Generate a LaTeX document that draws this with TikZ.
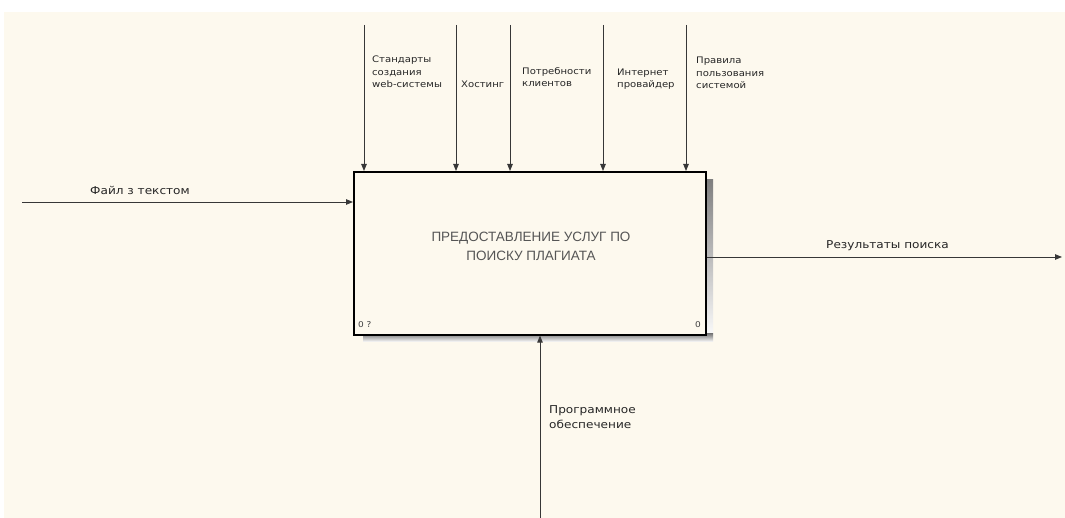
\documentclass[tikz,border=0pt]{standalone}
\usepackage{fontspec}
\usetikzlibrary{arrows.meta}
\newfontfamily\lblfont[FakeStretch=1.12]{DejaVu Sans}
\newfontfamily\boxfont{Liberation Sans}
\definecolor{paper}{RGB}{253,249,238}
\definecolor{wirec}{RGB}{55,55,55}
\definecolor{shade}{RGB}{178,178,175}
\definecolor{titlegray}{RGB}{85,85,85}
\begin{document}
\begin{tikzpicture}[x=1pt,y=-1pt,
  wire/.style={draw=wirec, line width=0.9pt, -{Triangle[length=7pt,width=5.5pt]}},
  small/.style={font=\lblfont\fontsize{9}{12.5}\selectfont, text=black!85, align=left, inner sep=0pt, anchor=base west},
  arrowlabel/.style={font=\lblfont\fontsize{10.8}{15}\selectfont, text=black!85, align=left, inner sep=0pt, anchor=base west},
  corner/.style={font=\lblfont\fontsize{8}{9}\selectfont, text=black!75, inner sep=0pt},
]
% page and canvas
\fill[white] (0,0) rectangle (1065,518);
\fill[paper] (4,12) rectangle (1065,518);
\useasboundingbox (0,0) rectangle (1065,518);
% drop shadow of the activity box
\fill[shade] (705,180) rectangle (713,342);
\fill[shade] (363,334) rectangle (713,342);
% activity box
\node[draw=black, line width=1.6pt, fill=paper, minimum width=352pt, minimum height=163pt,
      inner sep=0pt, anchor=north west] (a0) at (353,171) {};
\node[font=\boxfont\fontsize{13.5}{19}\selectfont, text=titlegray, align=center] (title) at (531,246)
  {ПРЕДОСТАВЛЕНИЕ УСЛУГ ПО\\ПОИСКУ ПЛАГИАТА};
\node[corner, anchor=base west] (nodeid) at (358,328) {0 ?};
\node[corner, anchor=base east] (boxno) at (701,328) {0};
% controls
\coordinate (c1) at (364,25);
\coordinate (c2) at (456,25);
\coordinate (c3) at (510,25);
\coordinate (c4) at (603,25);
\coordinate (c5) at (686,25);
\foreach \c in {c1,c2,c3,c4,c5}
  \draw[wire] (\c) -- (\c |- a0.north);
\node[small] (l1) at (372,88) {Стандарты\\создания\\web-системы};
\node[small] (l2) at (461,88) {Хостинг};
\node[small] (l3) at (522,87) {Потребности\\клиентов};
\node[small] (l4) at (617,88) {Интернет\\провайдер};
\node[small] (l5) at (696,89) {Правила\\пользования\\системой};
% input
\coordinate (in1) at (22,202);
\draw[wire] (in1) -- (in1 -| a0.west);
\node[arrowlabel] (lin) at (90,195) {Файл з текстом};
% output
\coordinate (out1) at (1062,257);
\draw[wire] (a0.east |- out1) -- (out1);
\node[arrowlabel] (lout) at (826,249) {Результаты поиска};
% mechanism
\coordinate (m1) at (540,518);
\draw[wire] (m1) -- (m1 |- a0.south);
\node[arrowlabel] (lmech) at (549,428) {Программное\\обеспечение};
\end{tikzpicture}
\end{document}
